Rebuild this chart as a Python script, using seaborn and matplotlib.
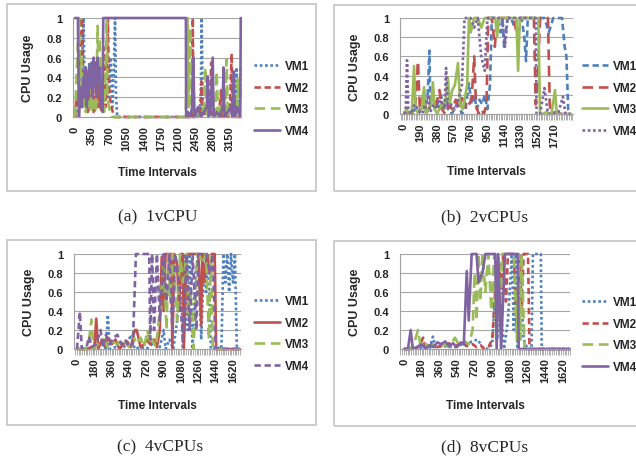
import matplotlib
matplotlib.use("Agg")
import matplotlib.pyplot as plt
import seaborn as sns
from matplotlib.patches import Rectangle
from matplotlib.ticker import MultipleLocator, FixedLocator

# ---- (a) 1vCPU ----
x1a = [0, 40, 80, 120, 150, 175, 200, 240, 270, 290, 320, 360, 400, 440, 480, 520, 560, 600, 640, 680,
       720, 760, 790, 815, 835, 860, 2480, 2540, 2560, 2575, 2595, 2620, 2700, 2760, 2800, 2850, 2900,
       2960, 3000, 3060, 3120, 3180, 3240, 3270, 3285, 3300, 3340, 3370]
y1a = [0, 0.05, 0.1, 0.3, 0.6, 1, 0.1, 0.2, 0.05, 0.55, 0.1, 0.3, 0.05, 0.2, 0.35, 0.1, 0.4, 0.15, 0.3, 0.2,
       0.6, 0.1, 0.5, 1, 0.2, 0, 0, 0.1, 0.3, 1, 0.2, 0.05, 0.1, 0, 0.1, 0.05, 0,
       0.1, 0, 0.05, 0, 0.2, 0, 0.1, 0.5, 0.1, 0, 0.5]
x2a = [0, 30, 60, 100, 130, 150, 170, 200, 230, 260, 290, 320, 350, 380, 410, 440, 470, 500, 530, 560,
       590, 620, 650, 670, 690, 710, 740, 770, 800, 2380, 2395, 2410, 2440, 2480, 2520, 2560, 2570, 2590,
       2640, 2700, 2740, 2770, 2790, 2830, 2880, 2930, 2970, 2990, 3040, 3100, 3150, 3185, 3200, 3250,
       3300, 3340]
y2a = [0, 0.2, 0.1, 0.5, 1, 0.9, 0.3, 0.1, 0.5, 0.05, 0.3, 0.1, 0.45, 0.05, 0.2, 0.4, 0.1, 0.3, 0.05, 0.2,
       0.7, 0.1, 0.4, 1, 0.35, 0.2, 0.1, 0.05, 0, 0, 1, 0, 0.05, 0, 0.1, 0, 0.36, 0,
       0.05, 0, 0.1, 0.55, 0, 0.1, 0, 0.05, 0.27, 0, 0.05, 0, 0.1, 0.64, 0, 0.1,
       0, 0]
x3a = [0, 40, 70, 85, 100, 130, 160, 190, 220, 250, 280, 310, 340, 370, 400, 430, 460, 480, 500, 530,
       560, 590, 620, 645, 660, 690, 720, 750, 2250, 2290, 2310, 2340, 2370, 2400, 2440, 2500, 2560,
       2620, 2650, 2680, 2740, 2800, 2850, 2880, 2910, 2960, 3020, 3060, 3080, 3110, 3160, 3220, 3280,
       3310, 3340, 3370]
y3a = [0, 0.5, 0.9, 1, 0.3, 0.6, 0.1, 0.4, 0.05, 0.5, 0.1, 0.3, 0.05, 0.2, 0.1, 0.05, 0.92, 0.3, 0.8, 0.1,
       0.5, 0.05, 0.4, 1, 0.2, 0.1, 0.05, 0, 0, 1, 0.1, 0.9, 0.05, 0.1, 0, 0.05, 0,
       0.1, 0.5, 0, 0.1, 0.05, 0, 0.46, 0, 0.1, 0, 0.1, 0.58, 0, 0.1, 0.05, 0,
       0.38, 0, 0.3]
x4a = [0, 60, 80, 110, 140, 170, 200, 220, 240, 260, 280, 300, 320, 340, 360, 380, 400, 420, 440, 460,
       480, 500, 520, 540, 560, 575, 2255, 2260, 2300, 2350, 2380, 2405, 2430, 2500, 2560, 2620, 2680,
       2700, 2720, 2760, 2800, 2820, 2880, 2950, 3000, 3020, 3040, 3100, 3160, 3200, 3230, 3250, 3300,
       3360, 3370]
y4a = [1, 1, 0, 0.3, 0.1, 0.4, 0.2, 0.5, 0.1, 0.45, 0.2, 0.5, 0.3, 0.55, 0.2, 0.6, 0.3, 0.55, 0.2, 0.6,
       0.35, 0.5, 0.1, 0.3, 0.05, 1, 1, 0, 0.05, 0, 0.1, 0.6, 0, 0.1, 0, 0.05, 0.1,
       0.41, 0, 0.1, 0.6, 0, 0.05, 0, 0.1, 0.5, 0, 0.05, 0.1, 0, 0.46, 0, 0.1,
       0, 1]

# ---- (b) 2vCPUs ----
x1b = [0, 40, 80, 120, 160, 200, 240, 270, 290, 300, 320, 350, 380, 420, 460, 500, 540, 580, 620, 660,
       700, 740, 770, 800, 830, 860, 890, 920, 950, 980, 1000, 1020, 1060, 1100, 1120, 1140, 1180, 1220,
       1260, 1300, 1340, 1370, 1390, 1410, 1450, 1500, 1550, 1600, 1650, 1700, 1750, 1800, 1830, 1850,
       1870, 1900]
y1b = [0, 0.02, 0, 0.05, 0, 0.1, 0.05, 0.2, 0.66, 0.1, 0.22, 0.05, 0.1, 0.2, 0.05, 0.15, 0, 0.05, 0.1, 0,
       0.05, 0.32, 0.1, 0.2, 0.05, 0.15, 0.1, 0.2, 0.05, 0.3, 1, 1, 1, 0.85, 1, 0.7, 1, 1,
       0.9, 1, 1, 0.8, 0.55, 1, 1, 1, 1, 1, 0.85, 1, 1, 1, 0.7, 0.6,
       0.05, 0]
x2b = [0, 60, 100, 130, 160, 180, 220, 260, 300, 340, 380, 405, 430, 470, 510, 550, 590, 630, 670, 710,
       740, 770, 800, 820, 850, 880, 910, 940, 960, 1000, 1035, 1060, 1120, 1180, 1240, 1300, 1330, 1380,
       1440, 1480, 1500, 1520, 1550, 1600, 1640, 1660, 1680, 1720, 1800, 1900]
y2b = [0, 0.02, 0, 0.1, 0.55, 0.05, 0.2, 0, 0.1, 0.05, 0.15, 0.25, 0.05, 0, 0.1, 0.05, 0.15, 0.05, 0.2, 0.05,
       0.1, 0.15, 0.6, 0.1, 0, 0.05, 0, 0.1, 1, 1, 0.7, 1, 1, 1, 1, 0.8, 1, 1,
       1, 1, 0.1, 0.3, 1, 1, 1, 0.1, 0, 0.02, 0, 0]
x3b = [0, 30, 60, 90, 115, 130, 160, 200, 230, 250, 280, 310, 330, 350, 380, 420, 460, 500, 520, 550,
       580, 615, 640, 670, 700, 720, 740, 760, 800, 840, 880, 920, 960, 1000, 1040, 1060, 1080, 1120,
       1180, 1240, 1280, 1300, 1320, 1360, 1420, 1480, 1530, 1550, 1580, 1620, 1680, 1720, 1740, 1780,
       1850, 1900]
y3b = [0, 0.05, 0, 0.02, 0.5, 0.1, 0, 0.05, 0.28, 0, 0.05, 0.1, 0.33, 0.05, 0, 0.1, 0.05, 0.38, 0.1, 0.25,
       0.3, 0.53, 0.1, 0.05, 0.2, 0.3, 1, 0.85, 1, 1, 0.9, 1, 1, 1, 1, 0.8, 1, 1,
       1, 1, 1, 0.45, 1, 1, 1, 1, 1, 0, 0, 0.02, 0, 0.25, 0, 0,
       0, 0]
x4b = [0, 20, 35, 50, 80, 120, 160, 200, 240, 275, 300, 340, 380, 420, 460, 480, 500, 540, 580, 620,
       660, 690, 720, 760, 800, 840, 880, 920, 950, 1000, 1060, 1120, 1150, 1180, 1240, 1300, 1360, 1420,
       1470, 1500, 1510, 1550, 1600, 1640, 1700, 1760, 1810, 1840, 1900]
y4b = [0, 0.05, 0.56, 0.05, 0, 0.1, 0.05, 0, 0.05, 0.2, 0.02, 0.1, 0.05, 0.15, 0.05, 0.48, 0.05, 0.1, 0.05, 0.15,
       0.3, 1, 1, 1, 0.9, 1, 0.6, 0.45, 1, 1, 1, 1, 0.7, 1, 1, 1, 1, 1,
       1, 1, 0, 0, 0.27, 0, 0, 0.02, 0.18, 0, 0]

# ---- (c) 4vCPUs ----
x1c = [0, 100, 200, 260, 300, 320, 340, 400, 460, 520, 560, 600, 660, 720, 780, 820, 860, 900, 920, 960,
       1000, 1040, 1080, 1100, 1120, 1150, 1170, 1200, 1230, 1260, 1290, 1320, 1340, 1360, 1390, 1420,
       1460, 1500, 1520, 1540, 1560, 1580, 1600, 1620, 1640, 1660, 1690]
y1c = [0, 0, 0, 0.05, 0, 0.36, 0, 0.02, 0, 0.05, 0.15, 0, 0.02, 0, 0.05, 0.1, 0.02, 0.2, 0, 0.1,
       0, 0.3, 0.8, 0, 1, 0.2, 1, 0, 0.8, 1, 0.1, 1, 0.6, 1, 0, 0,
       0.02, 0, 1, 0.7, 1, 0.6, 1, 0.7, 1, 0, 0]
x2c = [0, 100, 150, 180, 200, 220, 260, 290, 320, 360, 400, 440, 480, 520, 560, 600, 620, 660, 700, 720,
       760, 800, 830, 860, 880, 900, 920, 950, 980, 990, 1010, 1040, 1060, 1080, 1100, 1110, 1140, 1200,
       1260, 1290, 1300, 1320, 1350, 1380, 1400, 1430, 1445, 1460, 1550, 1690]
y2c = [0, 0, 0.02, 0, 0.32, 0, 0.1, 0.02, 0.12, 0.05, 0.1, 0, 0.05, 0.08, 0.02, 0.2, 0.2, 0.02, 0.05, 0.1,
       0.05, 0.1, 0.02, 0.2, 0.97, 0.4, 1, 1, 1, 0, 1, 0.9, 0.4, 1, 1, 0, 1, 1,
       1, 0.25, 1, 0.7, 1, 0.8, 1, 1, 0, 0, 0, 0]
x3c = [0, 80, 120, 150, 170, 220, 280, 320, 360, 420, 480, 540, 580, 620, 660, 700, 730, 760, 780, 820,
       860, 900, 930, 950, 970, 990, 1010, 1040, 1070, 1100, 1140, 1160, 1180, 1210, 1250, 1270, 1300,
       1340, 1370, 1390, 1410, 1440, 1500, 1690]
y3c = [0, 0, 0.05, 0.31, 0, 0.05, 0.1, 0.02, 0.08, 0.05, 0.1, 0.02, 0.15, 0.05, 0.12, 0.02, 0.2, 0.05, 0.1, 0.02,
       0.4, 0.9, 0.2, 1, 0.5, 1, 0.8, 0.3, 1, 0.7, 1, 0.3, 0.6, 0, 1, 1, 0.9,
       1, 0.1, 1, 0, 0, 0, 0]
x4c = [0, 30, 50, 100, 125, 150, 200, 245, 270, 300, 340, 380, 420, 460, 500, 540, 580, 612, 650, 700,
       750, 760, 780, 800, 830, 860, 900, 930, 960, 990, 1020, 1060, 1100, 1140, 1170, 1200, 1240, 1260,
       1300, 1340, 1380, 1410, 1440, 1480, 1690]
y4c = [0, 0.39, 0, 0.02, 0.13, 0.02, 0.05, 0.2, 0.02, 0.15, 0.05, 0.12, 0.15, 0.05, 0.1, 0.02, 0.05, 1, 1, 1,
       1, 0.1, 1, 0.2, 1, 0.3, 1, 0.5, 1, 0.2, 1, 0.7, 0.1, 1, 0.2, 1, 0.2, 1,
       1, 1, 0.8, 1, 0, 0, 0]

# ---- (d) 8vCPUs ----
x1d = [0, 100, 200, 260, 295, 320, 400, 500, 600, 700, 750, 800, 850, 900, 930, 950, 980, 1020, 1060, 1100,
       1120, 1140, 1160, 1180, 1220, 1260, 1300, 1315, 1350, 1395, 1405, 1690]
y1d = [0, 0, 0.02, 0, 0.13, 0.02, 0.03, 0.02, 0.05, 0.08, 0.1, 0.02, 0, 0.05, 0.6, 0.1, 0.5, 0, 0.3, 1,
       0.2, 1, 0, 1, 0.1, 0, 0, 1, 1, 1, 0, 0]
x2d = [0, 80, 150, 195, 220, 280, 340, 400, 460, 520, 580, 640, 700, 740, 780, 820, 860, 900, 930, 950,
       970, 990, 1010, 1040, 1060, 1090, 1120, 1150, 1180, 1200, 1220, 1240, 1265, 1280, 1690]
y2d = [0, 0, 0.02, 0.12, 0, 0.05, 0.02, 0.04, 0.06, 0.02, 0.07, 0.03, 0.05, 0.02, 0.04, 0, 0.02, 0.1, 0.6, 0.3,
       0.9, 0.4, 1, 0.5, 1, 1, 1, 0.2, 1, 0.4, 1, 1, 1, 0, 0]
x3d = [0, 60, 100, 143, 170, 220, 280, 340, 400, 460, 520, 560, 620, 660, 700, 720, 740, 760, 780, 800,
       830, 860, 890, 920, 940, 960, 980, 1000, 1040, 1080, 1120, 1150, 1170, 1190, 1200, 1230, 1690]
y3d = [0, 0, 0.05, 0.2, 0.02, 0.05, 0.03, 0.06, 0.05, 0.02, 0.12, 0.04, 0.08, 0.05, 0.2, 0.8, 0.3, 1, 0.5, 1,
       0.6, 1, 0.4, 1, 0.1, 1, 0.2, 1, 1, 1, 1, 0.1, 1, 0.1, 1, 0, 0]
x4d = [0, 40, 68, 90, 130, 180, 220, 260, 300, 340, 380, 420, 460, 500, 540, 580, 610, 640, 660, 690,
       740, 760, 800, 830, 845, 900, 930, 945, 960, 990, 1030, 1080, 1120, 1160, 1170, 1250, 1690]
y4d = [0, 0, 0.2, 0, 0.02, 0.05, 0, 0.04, 0.02, 0.07, 0.05, 0.08, 0.03, 0.06, 0.02, 0.07, 0.05, 0.82, 0.3, 1,
       1, 0.7, 0.8, 1, 1, 1, 1, 0, 1, 0, 1, 1, 1, 1, 0, 0, 0]

vm_names = ["VM1", "VM2", "VM3", "VM4"]
captions = ["(a)  1vCPU", "(b)  2vCPUs", "(c)  4vCPUs", "(d)  8vCPUs"]

sns.set_theme(style="white")
plt.rcParams["font.family"] = ["Liberation Sans", "DejaVu Sans"]

colors = ["#4F81BD", "#C0504D", "#9BBB59", "#8064A2"]
DOT = (0, (1, 1))
DASH = (0, (2.4, 1.4))
LONG = (0, (4, 2.2))
SOLID = "-"

W, H = 636, 464
fig = plt.figure(figsize=(W / 100, H / 100), dpi=100)


def fx(px):
    return px / W


def fy(py):
    return 1 - py / H


# pixel boxes: axes (left, top, right, bottom), chart frame, caption centre, legend anchor
panels = [
    dict(data=[(x1a, y1a), (x2a, y2a), (x3a, y3a), (x4a, y4a)], styles=[DOT, DASH, LONG, SOLID],
         ax=(73, 19, 241, 118), xlim=(-40, 3375), ticks=range(0, 3151, 350), minor=None,
         frame=(7, 5, 316, 192), cap=(158, 217), leg=(254, 99.5), xlab=173),
    dict(data=[(x1b, y1b), (x2b, y2b), (x3b, y3b), (x4b, y4b)], styles=[DASH, LONG, SOLID, DOT],
         ax=(400, 19, 573, 115), xlim=(-45, 1925), ticks=range(0, 1711, 190), minor=19,
         frame=(334, 6, 640, 192), cap=(485, 217), leg=(582, 99.5), xlab=173),
    dict(data=[(x1c, y1c), (x2c, y2c), (x3c, y3c), (x4c, y4c)], styles=[DOT, SOLID, LONG, DASH],
         ax=(74, 255, 241, 350), xlim=(-31, 1703), ticks=range(0, 1621, 180), minor=18,
         frame=(7, 241, 316, 426), cap=(160, 447), leg=(254, 334.5), xlab=407),
    dict(data=[(x1d, y1d), (x2d, y2d), (x3d, y3d), (x4d, y4d)], styles=[DOT, DASH, LONG, SOLID],
         ax=(400, 255, 570, 350), xlim=(-41, 1693), ticks=range(0, 1621, 180), minor=18,
         frame=(334, 242, 640, 427), cap=(485, 447), leg=(582, 335.5), xlab=407),
]

for p, cap in zip(panels, captions):
    l, t, r, b = p["ax"]
    ax = fig.add_axes([fx(l), fy(b), (r - l) / W, (b - t) / H])
    for name, (xs, ys), ls, c in zip(vm_names, p["data"], p["styles"], colors):
        sns.lineplot(x=xs, y=ys, ax=ax, color=c, lw=1.9, linestyle=ls, label=name,
                     estimator=None, sort=False, clip_on=False)

    ax.set_xlim(*p["xlim"])
    ax.set_ylim(0, 1)
    ax.set_yticks([0, 0.2, 0.4, 0.6, 0.8, 1.0])
    ax.set_yticklabels(["0", "0.2", "0.4", "0.6", "0.8", "1"])
    ax.xaxis.set_major_locator(FixedLocator(list(p["ticks"])))
    ax.tick_params(axis="y", length=0, pad=8, labelsize=8)
    ax.tick_params(axis="x", which="both", bottom=True, length=4, width=0.6, color="#A0A0A0",
                   labelsize=8, labelrotation=90, pad=2)
    if p["minor"]:
        ax.xaxis.set_minor_locator(MultipleLocator(p["minor"]))
    else:
        ax.tick_params(axis="x", which="major", length=0, pad=6)
    for lab in ax.get_xticklabels() + ax.get_yticklabels():
        lab.set_fontweight("bold")

    ax.yaxis.grid(True, color="#A6A6A6", lw=0.8)
    ax.set_axisbelow(True)
    for s in ["top", "right"]:
        ax.spines[s].set_visible(False)
    for s in ["left", "bottom"]:
        ax.spines[s].set_color("#A0A0A0")
        ax.spines[s].set_linewidth(0.8)

    ax.set_ylabel("CPU Usage", fontsize=9, fontweight="bold")
    ax.yaxis.set_label_coords(-39.0 / (r - l), 0.5)
    ax.set_xlabel("Time Intervals", fontsize=8.5, fontweight="bold")
    ax.xaxis.set_label_coords(0.5, -(p["xlab"] - 6.5 - b) / (b - t))

    lx, ly = p["leg"]
    ax.legend(loc="center left", bbox_to_anchor=(fx(lx), fy(ly)), bbox_transform=fig.transFigure,
              frameon=False, handlelength=2.2, handletextpad=0.4,
              labelspacing=0.8, borderpad=0, borderaxespad=0,
              prop={"weight": "bold", "size": 8.5})

    x0, y0, x1, y1 = p["frame"]
    fig.add_artist(Rectangle((fx(x0), fy(y1)), (x1 - x0) / W, (y1 - y0) / H,
                             transform=fig.transFigure, fill=False, ec="#C4C4C4", lw=1.2))
    cx, cy = p["cap"]
    fig.text(fx(cx), fy(cy), cap, family=["Liberation Serif", "DejaVu Serif"], fontweight="normal",
             fontsize=12.5, ha="center", va="center")

fig.savefig("out.png", dpi=100, facecolor="white")
